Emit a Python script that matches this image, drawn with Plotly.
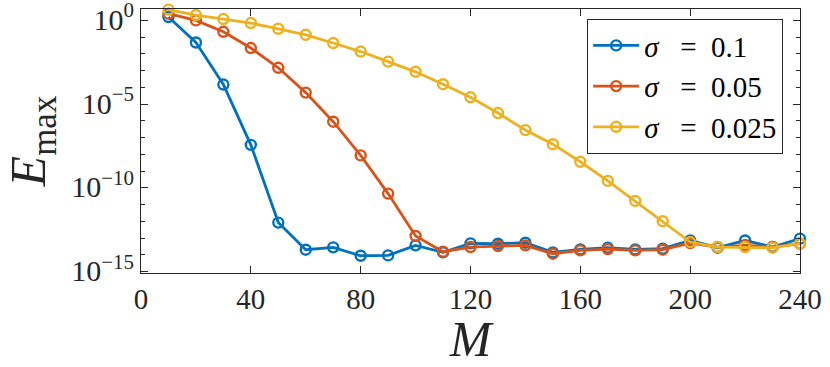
import plotly.graph_objects as go

# ── data (log10 of E_max) ─────────────────────────────────
M = [10, 20, 30, 40, 50, 60, 70, 80, 90, 100, 110, 120,
     130, 140, 150, 160, 170, 180, 190, 200, 210, 220, 230, 240]

log_e_s1 = [0.2, -1.32, -3.83, -7.43, -12.07, -13.69, -13.55, -14.05, -14.03, -13.43, -13.85, -13.31,
            -13.33, -13.27, -13.85, -13.67, -13.57, -13.67, -13.63, -13.14, -13.57, -13.14, -13.53, -13.03]
log_e_s2 = [0.4, 0.0, -0.68, -1.65, -2.83, -4.31, -6.05, -8.06, -10.34, -12.87, -13.81, -13.53,
            -13.47, -13.43, -13.93, -13.73, -13.65, -13.73, -13.69, -13.29, -13.53, -13.43, -13.53, -13.33]
log_e_s3 = [0.64, 0.32, 0.08, -0.16, -0.5, -0.86, -1.35, -1.86, -2.46, -3.07, -3.81, -4.59,
            -5.53, -6.55, -7.39, -8.44, -9.58, -10.78, -11.99, -13.23, -13.53, -13.53, -13.57, -13.33]

sigma_labels = ["0.1", "0.05", "0.025"]
colors = ["#0072BD", "#D95319", "#EDB120"]

x_ticks = [0, 40, 80, 120, 160, 200, 240]
y_major = [0, -5, -10, -15]
y_major_text = ["10<sup>0</sup>", "10<sup>−5</sup>", "10<sup>−10</sup>", "10<sup>−15</sup>"]

C_AX = "#262626"
FONT = "Liberation Serif, DejaVu Serif, serif"

fig = go.Figure()
for i, (sig, vals, color) in enumerate(zip(sigma_labels, [log_e_s1, log_e_s2, log_e_s3], colors)):
    fig.add_trace(go.Scatter(
        x=M,
        y=[10 ** v for v in vals],
        name=f"<i>σ</i>&nbsp;&nbsp;&nbsp;=&nbsp;&nbsp;{sig}",
        mode="lines+markers",
        cliponaxis=False,
        line=dict(color=color, width=2.8),
        marker=dict(symbol="circle-open", size=10, color=color, line=dict(width=2.4, color=color)),
    ))

fig.update_layout(
    width=830, height=367,
    paper_bgcolor="white",
    plot_bgcolor="white",
    margin=dict(l=141, r=30, t=9, b=94),
    font=dict(family=FONT, color=C_AX, size=28),
    showlegend=True,
    legend=dict(
        x=0.677, y=0.962, xanchor="left", yanchor="top",
        bgcolor="white",
        bordercolor=C_AX, borderwidth=1,
        font=dict(family=FONT, size=29, color="black"),
        itemwidth=46,
        tracegroupgap=0,
    ),
    xaxis=dict(
        range=[0, 240],
        tickvals=x_ticks,
        ticks="inside", ticklen=7, tickcolor=C_AX,
        showline=True, linecolor=C_AX, linewidth=1, mirror="ticks",
        showgrid=False, zeroline=False,
        automargin=False,
        ticklabeloverflow="allow",
        tickfont=dict(family=FONT, size=29, color=C_AX),
        title=dict(text="<i>M</i>", font=dict(family=FONT, size=50, color=C_AX), standoff=11),
    ),
    yaxis=dict(
        type="log",
        range=[-15.08, 0.68],
        tickvals=[10 ** v for v in y_major],
        ticktext=y_major_text,
        ticks="inside", ticklen=7, tickcolor=C_AX,
        minor=dict(tickvals=[10.0 ** k for k in range(-15, 1)], ticks="inside", ticklen=4, tickcolor=C_AX),
        showline=True, linecolor=C_AX, linewidth=1, mirror="ticks",
        showgrid=False, zeroline=False,
        automargin=False,
        ticklabeloverflow="allow",
        ticklabelshift=-1,
        tickfont=dict(family=FONT, size=30, color=C_AX),
        title=dict(text="<i>E</i><sub>max</sub>", font=dict(family=FONT, size=50, color=C_AX), standoff=22),
    ),
)

# drop the default 8px body margin so the figure fills the window exactly
fig.write_html(
    "out.html",
    config={"displayModeBar": False},
    post_script="document.body.style.margin = '0';",
)
